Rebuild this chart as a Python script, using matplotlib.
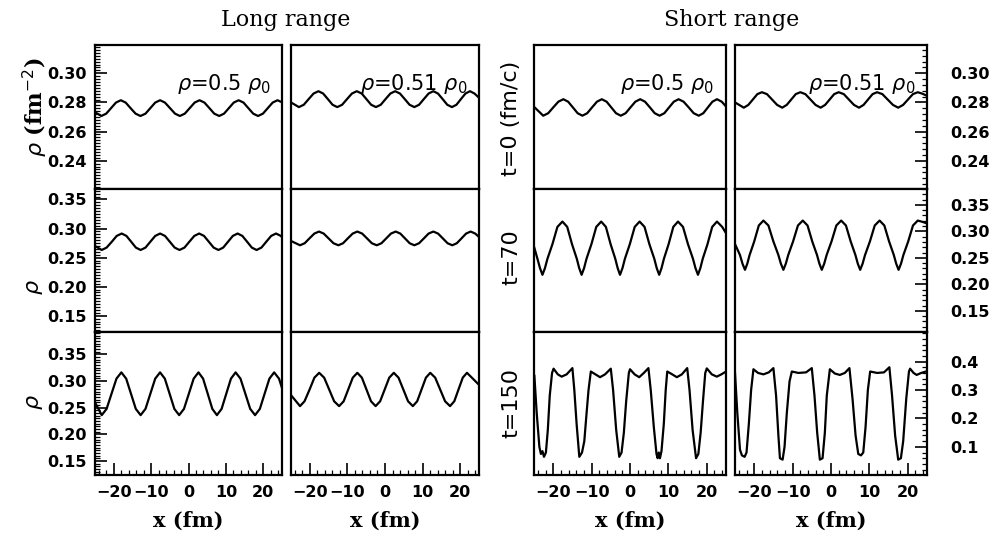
import numpy as np
import matplotlib.pyplot as plt
from matplotlib.ticker import FixedLocator, MultipleLocator, FormatStrFormatter

### data (x in fm, rho in fm^-2)

# long range, t=0
x_long_t0_a = [-25.0, -23.3, -22.0, -20.7, -19.4, -18.1, -16.8, -15.5, -14.15, -12.85, -11.5, -10.2, -8.9, -7.6,
               -6.3, -4.95, -3.6, -2.3, -0.99, 0.33, 1.64, 2.95, 4.26, 5.58, 6.89, 8.2, 9.5, 10.8, 12.1, 13.4,
               14.7, 16.0, 17.3, 18.6, 19.9, 21.2, 22.5, 23.8, 25.0]
rho_long_t0_a = [0.2733, 0.2707, 0.2723, 0.2761, 0.2799, 0.2815, 0.2799, 0.2761, 0.2723, 0.2707, 0.2723, 0.2761,
                 0.2799, 0.2815, 0.2799, 0.2761, 0.2723, 0.2707, 0.2723, 0.2761, 0.2799, 0.2815, 0.2799, 0.2761,
                 0.2723, 0.2707, 0.2723, 0.2761, 0.2799, 0.2815, 0.2799, 0.2761, 0.2723, 0.2707, 0.2723, 0.2761,
                 0.2799, 0.2815, 0.2801]
x_long_t0_b = [-25.0, -22.9, -21.6, -20.3, -19.0, -17.7, -16.45, -15.2, -13.95, -12.7, -11.4, -10.1, -8.8, -7.5,
               -6.2, -4.95, -3.68, -2.4, -1.13, 0.15, 1.43, 2.7, 3.98, 5.25, 6.53, 7.8, 9.06, 10.33, 11.59, 12.85,
               14.09, 15.33, 16.56, 17.8, 19.0, 20.2, 21.4, 22.6, 23.8, 25.0]
rho_long_t0_b = [0.2800, 0.2768, 0.2784, 0.2823, 0.2861, 0.2877, 0.2861, 0.2823, 0.2784, 0.2768, 0.2784, 0.2823,
                 0.2861, 0.2877, 0.2861, 0.2823, 0.2784, 0.2768, 0.2784, 0.2823, 0.2861, 0.2877, 0.2861, 0.2823,
                 0.2784, 0.2768, 0.2784, 0.2823, 0.2861, 0.2877, 0.2861, 0.2823, 0.2784, 0.2768, 0.2784, 0.2823,
                 0.2861, 0.2877, 0.2861, 0.2832]

# long range, t=70
x_long_t70_a = [-25.0, -23.2, -21.9, -20.5, -19.2, -17.86, -16.6, -15.33, -14.07, -12.8, -11.5, -10.2, -8.9, -7.59,
                -6.29, -5.0, -3.7, -2.4, -1.08, 0.23, 1.55, 2.86, 4.15, 5.43, 6.72, 8.0, 9.28, 10.57, 11.85, 13.13,
                14.4, 15.67, 16.93, 18.2, 19.5, 20.8, 22.1, 23.4, 24.7, 25.0]
rho_long_t70_a = [0.2700, 0.2631, 0.2672, 0.2773, 0.2873, 0.2914, 0.2873, 0.2773, 0.2672, 0.2631, 0.2672, 0.2773,
                  0.2873, 0.2914, 0.2873, 0.2773, 0.2672, 0.2631, 0.2672, 0.2773, 0.2873, 0.2914, 0.2873, 0.2773,
                  0.2672, 0.2631, 0.2672, 0.2773, 0.2873, 0.2914, 0.2873, 0.2773, 0.2672, 0.2631, 0.2672, 0.2773,
                  0.2873, 0.2914, 0.2873, 0.2850]
x_long_t70_b = [-25.0, -22.6, -21.36, -20.1, -18.8, -17.55, -16.3, -15.0, -13.7, -12.4, -11.16, -9.9, -8.6, -7.36,
                -6.07, -4.78, -3.5, -2.2, -0.94, 0.32, 1.58, 2.84, 4.08, 5.32, 6.56, 7.8, 9.06, 10.33, 11.59, 12.85,
                14.11, 15.38, 16.64, 17.9, 19.1, 20.34, 21.56, 22.78, 24.0, 25.0]
rho_long_t70_b = [0.2786, 0.2712, 0.2747, 0.2830, 0.2913, 0.2948, 0.2913, 0.2830, 0.2747, 0.2712, 0.2747, 0.2830,
                  0.2913, 0.2948, 0.2913, 0.2830, 0.2747, 0.2712, 0.2747, 0.2830, 0.2913, 0.2948, 0.2913, 0.2830,
                  0.2747, 0.2712, 0.2747, 0.2830, 0.2913, 0.2948, 0.2913, 0.2830, 0.2747, 0.2712, 0.2747, 0.2830,
                  0.2913, 0.2948, 0.2913, 0.2855]

# long range, t=150
x_long_t150_a = [-25.0, -23.2, -21.9, -20.58, -19.26, -17.95, -16.66, -15.38, -14.09, -12.8, -11.5, -10.2, -8.9,
                 -7.6, -6.33, -5.05, -3.78, -2.5, -1.21, 0.09, 1.38, 2.67, 3.9, 5.14, 6.37, 7.6, 8.85, 10.1, 11.35,
                 12.6, 13.9, 15.2, 16.5, 17.8, 19.08, 20.35, 21.63, 22.9, 24.2, 25.0]
rho_long_t150_a = [0.2600, 0.2362, 0.2479, 0.2763, 0.3046, 0.3163, 0.3046, 0.2763, 0.2479, 0.2362, 0.2479, 0.2763,
                   0.3046, 0.3163, 0.3046, 0.2763, 0.2479, 0.2362, 0.2479, 0.2763, 0.3046, 0.3163, 0.3046, 0.2763,
                   0.2479, 0.2362, 0.2479, 0.2763, 0.3046, 0.3163, 0.3046, 0.2763, 0.2479, 0.2362, 0.2479, 0.2763,
                   0.3046, 0.3163, 0.3046, 0.2870]
x_long_t150_b = [-25.0, -22.6, -21.4, -20.05, -18.78, -17.5, -16.18, -14.85, -13.53, -12.2, -10.99, -9.78, -8.57,
                 -7.36, -6.15, -4.93, -3.72, -2.5, -1.29, -0.08, 1.13, 2.34, 3.6, 4.87, 6.13, 7.4, 8.56, 9.72, 10.88,
                 12.04, 13.35, 14.67, 15.98, 17.3, 18.43, 19.55, 20.68, 21.8, 23.1, 25.0]
rho_long_t150_b = [0.2737, 0.2531, 0.2622, 0.2843, 0.3064, 0.3155, 0.3064, 0.2843, 0.2622, 0.2531, 0.2622, 0.2843,
                   0.3064, 0.3155, 0.3064, 0.2843, 0.2622, 0.2531, 0.2622, 0.2843, 0.3064, 0.3155, 0.3064, 0.2843,
                   0.2622, 0.2531, 0.2622, 0.2843, 0.3064, 0.3155, 0.3064, 0.2843, 0.2622, 0.2531, 0.2622, 0.2843,
                   0.3064, 0.3155, 0.3064, 0.2930]

# short range, t=0
x_short_t0_a = [-25.0, -22.6, -21.3, -19.98, -18.66, -17.35, -16.11, -14.88, -13.64, -12.4, -11.14, -9.88, -8.61,
                -7.35, -6.09, -4.88, -3.64, -2.4, -1.14, 0.13, 1.39, 2.65, 3.91, 5.18, 6.44, 7.7, 8.94, 10.18,
                11.41, 12.65, 13.96, 15.28, 16.59, 17.9, 19.09, 20.28, 21.46, 22.65, 23.9, 25.0]
rho_short_t0_a = [0.2770, 0.2709, 0.2726, 0.2766, 0.2805, 0.2822, 0.2805, 0.2766, 0.2726, 0.2709, 0.2726, 0.2766,
                  0.2805, 0.2822, 0.2805, 0.2766, 0.2726, 0.2709, 0.2726, 0.2766, 0.2805, 0.2822, 0.2805, 0.2766,
                  0.2726, 0.2709, 0.2726, 0.2766, 0.2805, 0.2822, 0.2805, 0.2766, 0.2726, 0.2709, 0.2726, 0.2766,
                  0.2805, 0.2822, 0.2805, 0.2772]
x_short_t0_b = [-25.0, -22.7, -21.53, -20.35, -19.18, -18.0, -16.68, -15.35, -14.03, -12.7, -11.53, -10.35, -9.18,
                -8.0, -6.68, -5.35, -4.03, -2.7, -1.53, -0.35, 0.83, 2.0, 3.33, 4.65, 5.98, 7.3, 8.48, 9.65, 10.83,
                12.0, 13.38, 14.75, 16.13, 17.5, 18.78, 20.05, 21.33, 22.6, 23.8, 25.0]
rho_short_t0_b = [0.2800, 0.2764, 0.2783, 0.2820, 0.2857, 0.2870, 0.2857, 0.2820, 0.2783, 0.2764, 0.2783, 0.2820,
                  0.2857, 0.2870, 0.2857, 0.2820, 0.2783, 0.2764, 0.2783, 0.2820, 0.2857, 0.2870, 0.2857, 0.2820,
                  0.2783, 0.2764, 0.2783, 0.2820, 0.2857, 0.2870, 0.2857, 0.2820, 0.2783, 0.2764, 0.2783, 0.2820,
                  0.2857, 0.2870, 0.2860, 0.2845]

# short range, t=70
x_short_t70_a = [-25.0, -24.1, -23.44, -22.8, -22.15, -21.5, -20.2, -18.9, -17.6, -16.35, -15.1, -13.85, -13.23,
                 -12.6, -11.96, -11.33, -10.05, -8.78, -7.5, -6.28, -5.05, -3.83, -3.21, -2.6, -1.96, -1.33, -0.05,
                 1.23, 2.5, 3.78, 5.05, 6.33, 6.96, 7.6, 8.21, 8.83, 10.05, 11.28, 12.5, 13.8, 15.1, 16.4, 17.05,
                 17.7, 18.32, 18.94, 20.18, 21.41, 22.65, 24.0, 25.0]
rho_short_t70_a = [0.2713, 0.2482, 0.2306, 0.2180,
                   0.2306, 0.2482, 0.2758, 0.3085, 0.3185, 0.3085, 0.2758, 0.2482, 0.2306, 0.2180,
                   0.2306, 0.2482, 0.2758, 0.3085, 0.3185, 0.3085, 0.2758, 0.2482, 0.2306, 0.2180,
                   0.2306, 0.2482, 0.2758, 0.3085, 0.3185, 0.3085, 0.2758, 0.2482, 0.2306, 0.2180,
                   0.2306, 0.2482, 0.2758, 0.3085, 0.3185, 0.3085, 0.2758, 0.2482, 0.2306, 0.2180,
                   0.2306, 0.2482, 0.2758, 0.3085, 0.3185, 0.3085, 0.2966]
x_short_t70_b = [-25.0, -23.7, -23.05, -22.4, -21.8, -21.2, -20.0, -18.8, -17.6, -16.3, -15.0, -13.7, -13.05,
                 -12.4, -11.77, -11.14, -9.88, -8.61, -7.35, -6.11, -4.88, -3.64, -3.02, -2.4, -1.77, -1.14, 0.13,
                 1.39, 2.65, 3.89, 5.13, 6.36, 6.98, 7.6, 8.23, 8.86, 10.13, 11.39, 12.65, 13.89, 15.13, 16.36,
                 16.98, 17.6, 18.23, 18.85, 20.1, 21.35, 22.6, 23.8, 25.0]
rho_short_t70_b = [0.2760, 0.2553, 0.2390, 0.2274,
                   0.2390, 0.2553, 0.2809, 0.3111, 0.3204, 0.3111, 0.2809, 0.2553, 0.2390, 0.2274,
                   0.2390, 0.2553, 0.2809, 0.3111, 0.3204, 0.3111, 0.2809, 0.2553, 0.2390, 0.2274,
                   0.2390, 0.2553, 0.2809, 0.3111, 0.3204, 0.3111, 0.2809, 0.2553, 0.2390, 0.2274,
                   0.2390, 0.2553, 0.2809, 0.3111, 0.3204, 0.3111, 0.2809, 0.2553, 0.2390, 0.2274,
                   0.2390, 0.2553, 0.2809, 0.3111, 0.3204, 0.3180, 0.3150]

# short range, t=150
x_short_t150_a = [-24.9, -24.3, -23.6, -23.2, -22.8, -22.4, -21.9, -21.4, -20.9, -20.3, -19.9, -18.8, -17.8, -16.5,
                  -15.0, -14.5, -13.9, -13.2, -12.5, -11.9, -11.3, -10.8, -10.2, -9.0, -7.8, -6.5, -5.0, -4.4,
                  -3.6, -2.8, -2.2, -1.6, -1.0, -0.3, 0.0, 1.2, 2.4, 3.6, 4.8, 5.4, 6.2, 6.9, 7.2, 7.5, 7.8, 8.2,
                  8.8, 9.3, 9.7, 11.0, 12.2, 13.5, 14.9, 15.5, 16.3, 17.2, 17.8, 18.4, 19.0, 19.6, 20.0, 21.3,
                  22.6, 23.8, 25.0]
rho_short_t150_a = [0.350, 0.220, 0.100, 0.075, 0.085, 0.065, 0.080, 0.160, 0.280, 0.360, 0.375, 0.355, 0.347,
                    0.355, 0.377, 0.300, 0.180, 0.065, 0.080, 0.120, 0.220, 0.300, 0.365, 0.355, 0.345, 0.355,
                    0.375, 0.300, 0.160, 0.065, 0.080, 0.150, 0.260, 0.360, 0.373, 0.355, 0.345, 0.360, 0.377,
                    0.300, 0.170, 0.075, 0.060, 0.080, 0.060, 0.085, 0.180, 0.300, 0.365, 0.355, 0.345, 0.355,
                    0.377, 0.300, 0.160, 0.060, 0.075, 0.150, 0.260, 0.360, 0.376, 0.355, 0.347, 0.355, 0.365]
x_short_t150_b = [-25.0, -24.4, -23.7, -23.2, -22.5, -22.0, -21.4, -20.8, -20.2, -19.0, -17.6, -16.2, -15.0, -14.3,
                  -13.7, -13.3, -12.6, -12.1, -11.5, -10.8, -10.2, -8.5, -6.5, -5.0, -4.3, -3.6, -2.9, -2.2, -1.6,
                  -1.1, -0.3, 1.0, 2.3, 3.6, 4.8, 5.6, 6.4, 7.1, 7.8, 8.4, 9.0, 9.6, 10.2, 12.0, 13.8, 15.2, 15.9,
                  16.7, 17.5, 18.2, 18.8, 19.6, 20.3, 20.6, 21.5, 22.3, 23.5, 24.7, 25.0]
rho_short_t150_b = [0.360, 0.220, 0.090, 0.070, 0.065, 0.080, 0.180, 0.300, 0.373, 0.360, 0.355, 0.362, 0.377,
                    0.280, 0.140, 0.060, 0.055, 0.100, 0.220, 0.330, 0.365, 0.360, 0.362, 0.377, 0.280, 0.150,
                    0.055, 0.060, 0.150, 0.280, 0.373, 0.358, 0.353, 0.360, 0.377, 0.270, 0.140, 0.075, 0.070,
                    0.080, 0.170, 0.300, 0.365, 0.360, 0.362, 0.380, 0.280, 0.140, 0.055, 0.060, 0.120, 0.270,
                    0.365, 0.375, 0.360, 0.353, 0.360, 0.365, 0.366]

density_labels = [r'$\rho$=0.5 $\rho_0$', r'$\rho$=0.51 $\rho_0$']
group_titles = ['Long range', 'Short range']
time_labels = ['t=0 (fm/c)', 't=70', 't=150']

x_ticks = [-20, -10, 0, 10, 20]
left_yticks = [[0.24, 0.26, 0.28, 0.30], [0.15, 0.20, 0.25, 0.30, 0.35], [0.15, 0.20, 0.25, 0.30, 0.35]]
right_yticks = [[0.24, 0.26, 0.28, 0.30], [0.15, 0.20, 0.25, 0.30, 0.35], [0.1, 0.2, 0.3, 0.4]]

curves = {
    (0, 0): (x_long_t0_a, rho_long_t0_a), (0, 1): (x_long_t0_b, rho_long_t0_b),
    (1, 0): (x_long_t70_a, rho_long_t70_a), (1, 1): (x_long_t70_b, rho_long_t70_b),
    (2, 0): (x_long_t150_a, rho_long_t150_a), (2, 1): (x_long_t150_b, rho_long_t150_b),
    (0, 2): (x_short_t0_a, rho_short_t0_a), (0, 3): (x_short_t0_b, rho_short_t0_b),
    (1, 2): (x_short_t70_a, rho_short_t70_a), (1, 3): (x_short_t70_b, rho_short_t70_b),
    (2, 2): (x_short_t150_a, rho_short_t150_a), (2, 3): (x_short_t150_b, rho_short_t150_b),
}

### layout (pixels)
W, H = 997, 537
cols = [(95, 282), (291, 479), (534, 726), (735, 927)]
rows = [(45, 189), (189, 332), (332, 475)]
left_ylim = [(0.2206, 0.3194), (0.122, 0.368), (0.124, 0.392)]
right_ylim = [(0.2206, 0.3194), (0.110, 0.380), (0.001, 0.504)]
left_minor = [0.002, 0.005, 0.005]
right_minor = [0.004, 0.01, 0.02]

plt.rcParams['mathtext.fontset'] = 'dejavusans'
fig = plt.figure(figsize=(W / 100, H / 100), dpi=100)

tick_font = dict(size=11.5, weight='bold', family='DejaVu Sans')

for (r, c), (x, y) in curves.items():
    x0, x1 = cols[c]
    y0, y1 = rows[r]
    ax = fig.add_axes([x0 / W, 1 - y1 / H, (x1 - x0) / W, (y1 - y0) / H])
    ax.plot(x, y, color='black', lw=1.6)
    ax.set_xlim(-25, 25)
    ax.set_ylim(*(left_ylim[r] if c < 2 else right_ylim[r]))
    for s in ax.spines.values():
        s.set_linewidth(1.6)

    ax.tick_params(which='both', direction='in', left=False, right=False, top=False, bottom=False,
                   labelleft=False, labelbottom=False)
    ax.tick_params(which='major', length=8.5, width=1.2)
    ax.tick_params(which='minor', length=3.5, width=0.9)
    ax.xaxis.set_major_locator(FixedLocator(x_ticks))
    ax.xaxis.set_minor_locator(MultipleLocator(2))

    if c == 0:
        ax.yaxis.set_major_locator(FixedLocator(left_yticks[r]))
        ax.yaxis.set_minor_locator(MultipleLocator(left_minor[r]))
        ax.yaxis.set_major_formatter(FormatStrFormatter('%.2f'))
        ax.tick_params(which='both', left=True, labelleft=True, pad=6)
        for lab in ax.get_yticklabels():
            lab.set(**tick_font)
    if c == 3:
        ax.yaxis.set_major_locator(FixedLocator(right_yticks[r]))
        ax.yaxis.set_minor_locator(MultipleLocator(right_minor[r]))
        ax.yaxis.set_major_formatter(FormatStrFormatter('%.1f' if r == 2 else '%.2f'))
        ax.tick_params(which='both', right=True, labelright=True, pad=17)
        for lab in ax.get_yticklabels():
            lab.set(**tick_font)
    if r == 2:
        ax.tick_params(which='both', bottom=True, labelbottom=True)
        ax.tick_params(axis='x', pad=7)
        for lab in ax.get_xticklabels():
            lab.set(**tick_font)
        fig.text((x0 + x1) / 2 / W, 1 - 521 / H, 'x (fm)', ha='center', va='center',
                 family='DejaVu Serif', weight='bold', size=15)
    if r == 0:
        ax.text(0.94, 0.73, density_labels[c % 2], transform=ax.transAxes, ha='right', va='center',
                size=15, family='DejaVu Sans')

# group titles
fig.text(286 / W, 1 - 20 / H, group_titles[0], ha='center', va='center', family='DejaVu Serif', size=16)
fig.text(732 / W, 1 - 20 / H, group_titles[1], ha='center', va='center', family='DejaVu Serif', size=16)

# left axis labels
fig.text(35 / W, 1 - 107 / H, r'$\rho$ (fm$^{-2}$)', rotation=90, ha='center', va='center',
         family='DejaVu Serif', weight='bold', size=16)
fig.text(35 / W, 1 - 287 / H, r'$\rho$', rotation=90, ha='center', va='center', size=16)
fig.text(35 / W, 1 - 402 / H, r'$\rho$', rotation=90, ha='center', va='center', size=16)

# time labels for the short range group
fig.text(511 / W, 1 - 118 / H, time_labels[0], rotation=90, ha='center', va='center',
         family='DejaVu Sans', size=16)
fig.text(511 / W, 1 - 257 / H, time_labels[1], rotation=90, ha='center', va='center',
         family='DejaVu Sans', size=16)
fig.text(511 / W, 1 - 403 / H, time_labels[2], rotation=90, ha='center', va='center',
         family='DejaVu Sans', size=16)

fig.savefig('out.png', dpi=100)
